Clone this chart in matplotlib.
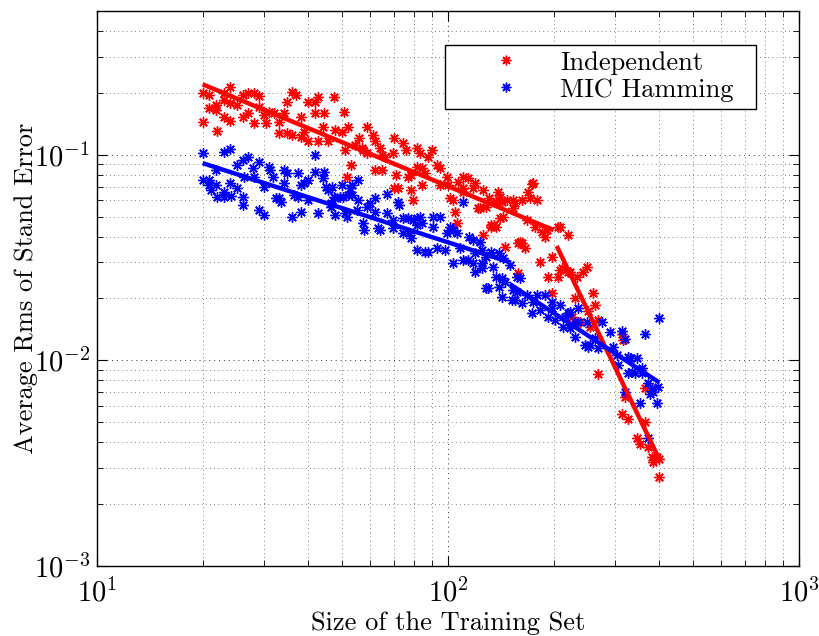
import numpy as np
import matplotlib
matplotlib.use("Agg")
import matplotlib.pyplot as plt
from matplotlib.lines import Line2D
from matplotlib.patches import Rectangle

plt.rcParams['mathtext.fontset'] = 'cm'
plt.rcParams['font.family'] = ['cmr10']
plt.rcParams['axes.formatter.use_mathtext'] = True

# ---------------- data ----------------
indep_x = [20.0, 20.0, 20.8, 20.8, 21.8, 21.8, 22.0, 23.0, 23.0, 23.0, 23.9, 23.9, 23.9, 25.0,
           26.0, 26.0, 26.9, 26.9, 28.0, 28.0, 29.0, 29.0, 29.9, 30.3, 30.9, 31.9, 33.0, 33.0,
           34.1, 34.8, 34.8, 36.0, 36.0, 37.0, 38.0, 38.0, 38.8, 39.8, 39.8, 41.9, 41.9, 42.7,
           42.7, 43.9, 44.2, 45.4, 47.2, 47.8, 49.9, 50.5, 50.9, 51.9, 52.9, 51.5, 54.3, 55.7,
           57.2, 58.8, 56.8, 58.8, 61.2, 62.0, 64.1, 65.0, 66.3, 69.5, 70.0, 62.0, 65.0, 70.9,
           74.3, 75.8, 78.4, 81.7, 83.4, 84.5, 86.2, 87.9, 90.3, 93.2, 95.0, 99.3, 100.0, 95.0,
           70.0, 71.9, 78.4, 79.6, 84.5, 107, 110.5, 113.8, 119.5, 118, 101, 103.5, 110, 110.5,
           104.9, 106, 126, 131, 139, 140, 122, 126, 132.6, 135, 143.4, 147.2, 153.2, 155.2,
           162.4, 168.9, 174.5, 179.2, 171.1, 145.3, 158.3, 160.3, 165.6, 182.9, 191.5, 189.0,
           192.7, 205.9, 205.9, 158.3, 197.9, 76.8, 81.7, 123.5, 128, 140.6, 137, 142.5, 173.4,
           153.2, 140.6, 132.6, 137, 167.8, 176.8, 185.3, 208.6, 219.9, 162.4, 197.9, 211.4,
           219.9, 233.3, 230.3, 208.6, 222.8, 242.6, 249, 258.9, 262.3, 250.5, 267.5, 225.8,
           237.9, 253.9, 313, 315, 267.5, 364, 319, 313, 326, 364, 345.5, 352.5, 371, 381, 394,
           400, 384, 400]
indep_y = [0.200, 0.145, 0.196, 0.169, 0.175, 0.165, 0.131, 0.200, 0.185, 0.153, 0.213, 0.179,
           0.146, 0.175, 0.196, 0.153, 0.200, 0.160, 0.200, 0.143, 0.194, 0.171, 0.156, 0.143,
           0.162, 0.160, 0.145, 0.128, 0.160, 0.181, 0.128, 0.203, 0.125, 0.196, 0.153, 0.122,
           0.129, 0.181, 0.117, 0.181, 0.160, 0.191, 0.116, 0.137, 0.160, 0.116, 0.191, 0.132,
           0.129, 0.162, 0.106, 0.136, 0.0894, 0.0782, 0.112, 0.121, 0.106, 0.136, 0.108, 0.102,
           0.125, 0.116, 0.108, 0.100, 0.098, 0.102, 0.121, 0.0846, 0.0846, 0.080, 0.114, 0.106,
           0.080, 0.108, 0.102, 0.0865, 0.0818, 0.097, 0.106, 0.0894, 0.0865, 0.0782, 0.0715,
           0.0715, 0.0691, 0.0691, 0.0676, 0.0604, 0.0715, 0.0739, 0.0782, 0.0773, 0.0731,
           0.0691, 0.0618, 0.0604, 0.0691, 0.0661, 0.0528, 0.0467, 0.0676, 0.0618, 0.0661,
           0.0604, 0.0552, 0.0408, 0.0446, 0.0456, 0.0499, 0.0604, 0.0604, 0.0584, 0.0604,
           0.0661, 0.0731, 0.0604, 0.0618, 0.0357, 0.0373, 0.0377, 0.0353, 0.0302, 0.0431,
           0.0399, 0.0255, 0.0446, 0.0255, 0.0267, 0.0213, 0.0782, 0.0875, 0.0552, 0.0558,
           0.0625, 0.0591, 0.0591, 0.0723, 0.0552, 0.0494, 0.0456, 0.0446, 0.0483, 0.0446,
           0.0422, 0.0446, 0.0408, 0.0373, 0.0319, 0.0282, 0.0270, 0.0255, 0.0201, 0.0276,
           0.0270, 0.0270, 0.0285, 0.0213, 0.0186, 0.0174, 0.0158, 0.0163, 0.0153, 0.0146,
           0.0134, 0.0126, 0.0086, 0.0073, 0.0066, 0.0055, 0.0052, 0.0050, 0.0042, 0.0039,
           0.0038, 0.0034, 0.0034, 0.0033, 0.0032, 0.0027]

mic_x = [20.0, 20.0, 20.8, 20.8, 21.1, 21.8, 21.8, 22.0, 23.0, 23.0, 23.0, 23.9, 23.9, 24.1,
         25.0, 25.0, 26.0, 26.0, 26.0, 26.9, 26.2, 27.8, 28.0, 29.0, 29.0, 29.9, 29.9, 30.9,
         31.1, 31.7, 32.4, 33.0, 33.4, 34.1, 34.8, 34.1, 36.0, 36.3, 37.5, 38.0, 38.0, 38.8,
         39.8, 39.8, 41.9, 41.9, 42.7, 43.9, 44.2, 44.8, 45.4, 46.3, 47.8, 47.8, 49.9, 50.2,
         50.9, 52.6, 53.2, 55.3, 55.3, 57.2, 57.5, 58.8, 37.3, 46.8, 53.2, 51.9, 49.2, 47.2,
         46.3, 67.2, 62.0, 60.0, 51.5, 55.0, 62.0, 67.2, 63.3, 64.1, 71.9, 72.3, 69.5, 69.5,
         74.3, 76.8, 79.6, 81.7, 83.4, 84.5, 74.3, 77.3, 78.4, 81.7, 90.7, 95.0, 90.7, 99.3,
         103.5, 106, 101, 110.5, 114.5, 118, 123.5, 81.7, 86.2, 93.2, 98.1, 87.9, 108, 110.5,
         113.8, 119.5, 117.5, 119.5, 103, 125, 128, 125, 128, 132.6, 140, 143.4, 150.2, 125,
         134.4, 137, 142.5, 145.3, 157.3, 160.3, 130, 140, 142.5, 153.2, 152.2, 155.2, 162.4,
         157.3, 167.8, 179.2, 189.0, 173.4, 174.5, 182.9, 192.7, 197.9, 197.9, 208.6, 201.9,
         215.6, 219.9, 212.8, 222.8, 234.8, 234.8, 222.8, 249, 230.3, 230.3, 245.8, 253.9,
         250.5, 274.6, 262.3, 267.5, 289.3, 295, 313, 319, 302.8, 304.8, 326, 330, 345.5, 334,
         326, 341, 357, 364, 357, 371, 381, 384, 376, 397, 400, 394, 352.5, 319, 371]
mic_y = [0.102, 0.0756, 0.0756, 0.0715, 0.0676, 0.0846, 0.0715, 0.0625, 0.103, 0.0661, 0.0625,
         0.107, 0.0731, 0.0632, 0.0691, 0.0894, 0.0946, 0.0625, 0.0571, 0.097, 0.0782, 0.0865,
         0.0782, 0.0925, 0.0540, 0.0510, 0.0699, 0.0875, 0.0846, 0.0782, 0.0618, 0.0618,
         0.0591, 0.0846, 0.0818, 0.0731, 0.0499, 0.0639, 0.0818, 0.0715, 0.0528, 0.0731,
         0.0604, 0.0756, 0.100, 0.0827, 0.0522, 0.0773, 0.0827, 0.0699, 0.0676, 0.0558,
         0.0618, 0.0510, 0.0715, 0.0625, 0.0522, 0.0691, 0.0639, 0.0756, 0.0604, 0.0467,
         0.0431, 0.0558, 0.0625, 0.0699, 0.0715, 0.0639, 0.0625, 0.0625, 0.0584, 0.0646,
         0.0618, 0.0584, 0.0499, 0.0540, 0.0528, 0.0522, 0.0441, 0.0431, 0.0591, 0.0571,
         0.0483, 0.0441, 0.0494, 0.0494, 0.0483, 0.0494, 0.0499, 0.0467, 0.0417, 0.0417,
         0.0394, 0.0456, 0.0499, 0.0499, 0.0446, 0.0417, 0.0431, 0.0417, 0.0446, 0.0591,
         0.0399, 0.0386, 0.0377, 0.0345, 0.0337, 0.0353, 0.0345, 0.0337, 0.0353, 0.0308,
         0.0308, 0.0334, 0.0298, 0.0270, 0.0298, 0.0298, 0.0225, 0.0345, 0.0319, 0.0337,
         0.0334, 0.0315, 0.0292, 0.0282, 0.0285, 0.0255, 0.0252, 0.0241, 0.0255, 0.0252,
         0.0225, 0.0228, 0.0204, 0.0220, 0.0197, 0.0197, 0.0190, 0.0215, 0.0208, 0.0208,
         0.0208, 0.0170, 0.0192, 0.0176, 0.0163, 0.0192, 0.0180, 0.0186, 0.0158, 0.0163,
         0.0170, 0.0146, 0.0144, 0.0180, 0.0153, 0.0172, 0.0153, 0.0153, 0.0130, 0.0119,
         0.0119, 0.0116, 0.0153, 0.0129, 0.0115, 0.0137, 0.0116, 0.0139, 0.0127, 0.0106,
         0.0095, 0.0104, 0.0103, 0.0103, 0.0088, 0.0087, 0.0087, 0.0092, 0.0134, 0.0087,
         0.0078, 0.0073, 0.0070, 0.0069, 0.0074, 0.0161, 0.0062, 0.0062, 0.0070, 0.0042]

# piecewise power-law fits (end points)
indep_fit1_x = [20, 200]
indep_fit1_y = [0.22, 0.043]
indep_fit2_x = [204, 400]
indep_fit2_y = [0.036, 0.0033]
mic_fit1_x = [20, 150]
mic_fit1_y = [0.091, 0.030]
mic_fit2_x = [150, 400]
mic_fit2_y = [0.0235, 0.0078]

labels = ['Independent', 'MIC Hamming']
xlabel = 'Size of the Training Set'
ylabel = 'Average Rms of Stand Error'

# ---------------- plot ----------------
W, H = 819, 636
fig = plt.figure(figsize=(W / 100, H / 100), dpi=100)
ax = fig.add_axes([97 / W, 1 - 566 / H, 702 / W, 555 / H])

red = '#ff0000'
blue = '#0000ff'
mk = (8, 2, 0)

ax.plot(indep_x, indep_y, linestyle='none', marker=mk, ms=7.5, mew=1.0,
        color=red, mec=red, label=labels[0])
ax.plot(mic_x, mic_y, linestyle='none', marker=mk, ms=7.5, mew=1.0,
        color=blue, mec=blue, label=labels[1])

ax.plot(indep_fit1_x, indep_fit1_y, color=red, lw=3.2, solid_capstyle='butt')
ax.plot(indep_fit2_x, indep_fit2_y, color=red, lw=3.2, solid_capstyle='butt')
ax.plot(mic_fit1_x, mic_fit1_y, color=blue, lw=3.2, solid_capstyle='butt')
ax.plot(mic_fit2_x, mic_fit2_y, color=blue, lw=3.2, solid_capstyle='butt')

ax.set_xscale('log')
ax.set_yscale('log')
ax.set_xlim(10, 1000)
ax.set_ylim(1e-3, 0.5)

ax.grid(True, which='major', linestyle=(0, (1, 4)), color='#333333', lw=0.7)
ax.grid(True, which='minor', linestyle=(0, (1, 4)), color='#555555', lw=0.6)

ax.tick_params(which='both', direction='in', top=True, right=True, labelsize=20.5)
ax.tick_params(which='major', length=7, width=0.8)
ax.tick_params(which='minor', length=4, width=0.6)
for s in ax.spines.values():
    s.set_linewidth(1.0)
ax.tick_params(axis='x', pad=9)
ax.tick_params(axis='y', pad=5)

ax.set_xlabel(xlabel, fontsize=19)
ax.set_ylabel(ylabel, fontsize=19)
ax.xaxis.set_label_coords(0.5, -0.082)
ax.yaxis.set_label_coords(-0.084, 0.5)

# legend: frameless legend + MATLAB-like box
handles = [Line2D([], [], linestyle='none', marker=mk, ms=7, mew=1.0, color=red),
           Line2D([], [], linestyle='none', marker=mk, ms=7, mew=1.0, color=blue)]
F = 19 * 100 / 72.0
hl = 2.0
x_handle_left = 506 - hl * F / 2
leg = ax.legend(handles, labels, loc='upper left',
                bbox_to_anchor=((x_handle_left - 97) / 702, (566 - 51) / 555),
                borderaxespad=0, borderpad=0, prop={'family': 'cmr10', 'size': 19},
                handlelength=hl, handletextpad=(560 - (x_handle_left + hl * F)) / F,
                numpoints=1, frameon=False, labelspacing=0.12)
ax.add_patch(Rectangle(((445 - 97) / 702, (566 - 109) / 555), (756 - 445) / 702, 64 / 555,
                       transform=ax.transAxes, facecolor='white', edgecolor='black',
                       lw=1.0, zorder=4.9))
leg.set_zorder(5)

fig.savefig('out.png', dpi=100)
